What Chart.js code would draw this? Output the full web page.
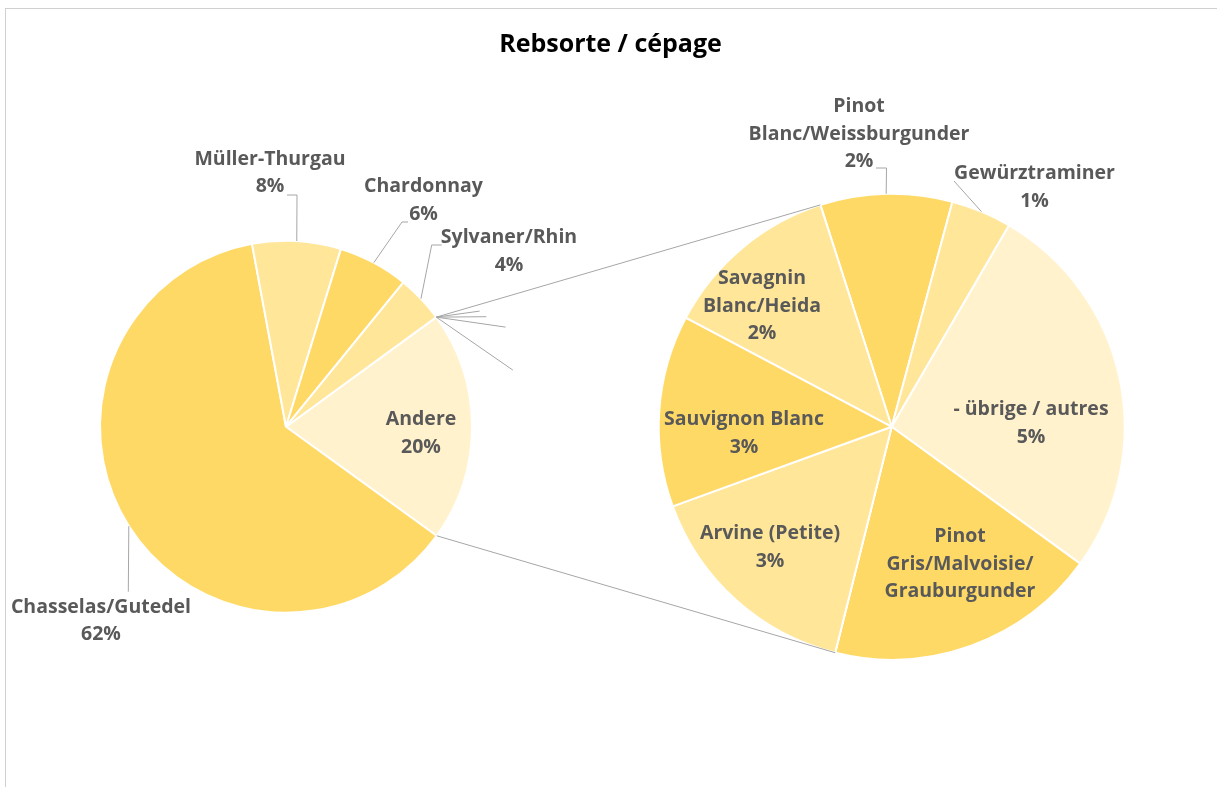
<!DOCTYPE html>
<html>
<head>
<meta charset="utf-8">
<script src="https://cdn.jsdelivr.net/npm/chart.js@4.4.0/dist/chart.umd.min.js"></script>
<style>
    html, body { margin: 0; padding: 0; background: #fff; }
    #wrap { position: relative; width: 1217px; height: 787px; overflow: hidden; }
    #wrap canvas { position: absolute; left: 0; top: 0; }
    #frame { position: absolute; left: 5px; top: 8px; right: -4px; bottom: -4px; border-left: 1px solid #d0d0d0; border-top: 1px solid #d0d0d0; }
    #title { position: absolute; left: 0; width: 1221px; top: 24px; text-align: center; font: bold 25px "Open Sans", sans-serif; color: #000; line-height: 36px; }
</style>
</head>
<body>
<div id="wrap">
    <div id="frame"></div>
    <canvas id="mainPie" width="1217" height="787"></canvas>
    <canvas id="otherPie" width="1217" height="787"></canvas>
    <div id="title">Rebsorte / cépage</div>
</div>
<script>
// main pie (share of all vineyards, %)
const mainLabels = ["Andere", "Chasselas/Gutedel", "Müller-Thurgau", "Chardonnay", "Sylvaner/Rhin"];
const mainValues = [20.0, 62.1, 7.7, 6.1, 4.1];
const mainColors = ["#FFF2CC", "#FFD966", "#FFE699", "#FFD966", "#FFE699"];

// breakdown of "Andere" (same % base as the main pie)
const otherLabels = ["Pinot Blanc/Weissburgunder", "Gewürztraminer", "- übrige / autres", "Pinot Gris/Malvoisie/Grauburgunder", "Arvine (Petite)", "Sauvignon Blanc", "Savagnin Blanc/Heida"];
const otherValues = [1.83, 0.84, 5.32, 3.78, 3.11, 2.66, 2.46];
const otherColors = ["#FFD966", "#FFE699", "#FFF2CC", "#FFD966", "#FFE699", "#FFD966", "#FFE699"];

const FONT = "bold 19.5px 'Open Sans', sans-serif";
const TEXT_COLOR = "#595959";
const LINE_COLOR = "#a6a6a6";
const LINE_H = 27.5;

// label placement relative to pie centre; leader = points from slice edge to label
const mainLayout = [
    { dx: 135, dy: 6.8 },
    { dx: -185, dy: 194.3, leader: [[-157.7, 165]] },
    { dx: -16, dy: -253.7, leader: [[11, -231.7], [1, -231.7]] },
    { dx: 137.5, dy: -226.2, leader: [[116, -204.7], [122, -204.7]] },
    { dx: 223, dy: -175.2, leader: [[145.7, -181.7], [155.7, -181.7]] }
];
const otherLayout = [
    { dx: -32.7, dy: -292.7, wrap: ["Pinot", "Blanc/Weissburgunder"], leader: [[-5.2, -258.7], [-15.7, -258.7]] },
    { dx: 142.8, dy: -239.2, leader: [[62.3, -245.7]] },
    { dx: 139.3, dy: -3.2 },
    { dx: 68.3, dy: 137.3, wrap: ["Pinot", "Gris/Malvoisie/", "Grauburgunder"], pct: false },
    { dx: -121.7, dy: 120.8 },
    { dx: -147.7, dy: 6.8 },
    { dx: -129.7, dy: -120.7, wrap: ["Savagnin", "Blanc/Heida"] }
];
// stray leader stubs of hidden labels (offsets from the split point)
const strayStubs = [[43.3, -6], [50, -0.4], [69.3, 10], [76.6, 53]];

const mainTotal = mainValues.reduce((a, b) => a + b, 0);

function arcPoint(p, angle) {
    return [p.x + p.outerRadius * Math.cos(angle), p.y + p.outerRadius * Math.sin(angle)];
}

function drawLabels(chart, layout) {
    const ctx = chart.ctx;
    const meta = chart.getDatasetMeta(0);
    const values = chart.data.datasets[0].data;
    ctx.save();
    ctx.font = FONT;
    ctx.fillStyle = TEXT_COLOR;
    ctx.textAlign = "center";
    ctx.textBaseline = "middle";
    meta.data.forEach((arc, i) => {
        const L = layout[i];
        const p = arc.getProps(["x", "y", "startAngle", "endAngle", "outerRadius"], true);
        if (L.leader) {
            const start = arcPoint(p, (p.startAngle + p.endAngle) / 2);
            ctx.beginPath();
            ctx.moveTo(start[0], start[1]);
            L.leader.forEach(pt => ctx.lineTo(p.x + pt[0], p.y + pt[1]));
            ctx.strokeStyle = LINE_COLOR;
            ctx.lineWidth = 1;
            ctx.stroke();
        }
        const lines = (L.wrap || [chart.data.labels[i]]).slice();
        if (L.pct !== false) lines.push(Math.round(values[i] / mainTotal * 100) + "%");
        const cx = p.x + L.dx, cy = p.y + L.dy;
        lines.forEach((t, k) => ctx.fillText(t, cx, cy + (k - (lines.length - 1) / 2) * LINE_H));
    });
    ctx.restore();
}

function makePie(id, labels, values, colors, rotation, radius, padding, extra) {
    return new Chart(document.getElementById(id), {
        type: "pie",
        data: {
            labels: labels,
            datasets: [{ data: values, backgroundColor: colors, borderColor: "#ffffff", borderWidth: 2 }]
        },
        options: {
            responsive: false,
            animation: false,
            devicePixelRatio: 1,
            events: [],
            rotation: rotation,
            radius: radius,
            layout: { padding: padding },
            plugins: { legend: { display: false }, tooltip: { enabled: false } }
        },
        plugins: [extra]
    });
}

const mainChart = makePie("mainPie", mainLabels, mainValues, mainColors, 53.9, 186,
    { left: 0, right: 645, top: 66.4, bottom: 0 },
    { id: "mainLabels", afterDatasetsDraw: chart => drawLabels(chart, mainLayout) });

const otherChart = makePie("otherPie", otherLabels, otherValues, otherColors, -17.83, 233,
    { left: 566.4, right: 0, top: 66.4, bottom: 0 },
    {
        id: "otherLabels",
        afterDatasetsDraw: chart => {
            const ctx = chart.ctx;
            const andere = mainChart.getDatasetMeta(0).data[0].getProps(["x", "y", "startAngle", "endAngle", "outerRadius"], true);
            const arcs = chart.getDatasetMeta(0).data;
            const first = arcs[0].getProps(["x", "y", "startAngle", "endAngle", "outerRadius"], true);
            const lower = arcs[4].getProps(["x", "y", "startAngle", "endAngle", "outerRadius"], true);
            const a0 = arcPoint(andere, andere.startAngle), a1 = arcPoint(andere, andere.endAngle);
            const b0 = arcPoint(first, first.startAngle), b1 = arcPoint(lower, lower.startAngle);
            ctx.save();
            ctx.strokeStyle = LINE_COLOR;
            ctx.lineWidth = 1;
            ctx.beginPath();
            ctx.moveTo(a0[0], a0[1]); ctx.lineTo(b0[0], b0[1]);
            ctx.moveTo(a1[0], a1[1]); ctx.lineTo(b1[0], b1[1]);
            strayStubs.forEach(s => { ctx.moveTo(a0[0], a0[1]); ctx.lineTo(a0[0] + s[0], a0[1] + s[1]); });
            ctx.stroke();
            ctx.restore();
            drawLabels(chart, otherLayout);
        }
    });
</script>
</body>
</html>
